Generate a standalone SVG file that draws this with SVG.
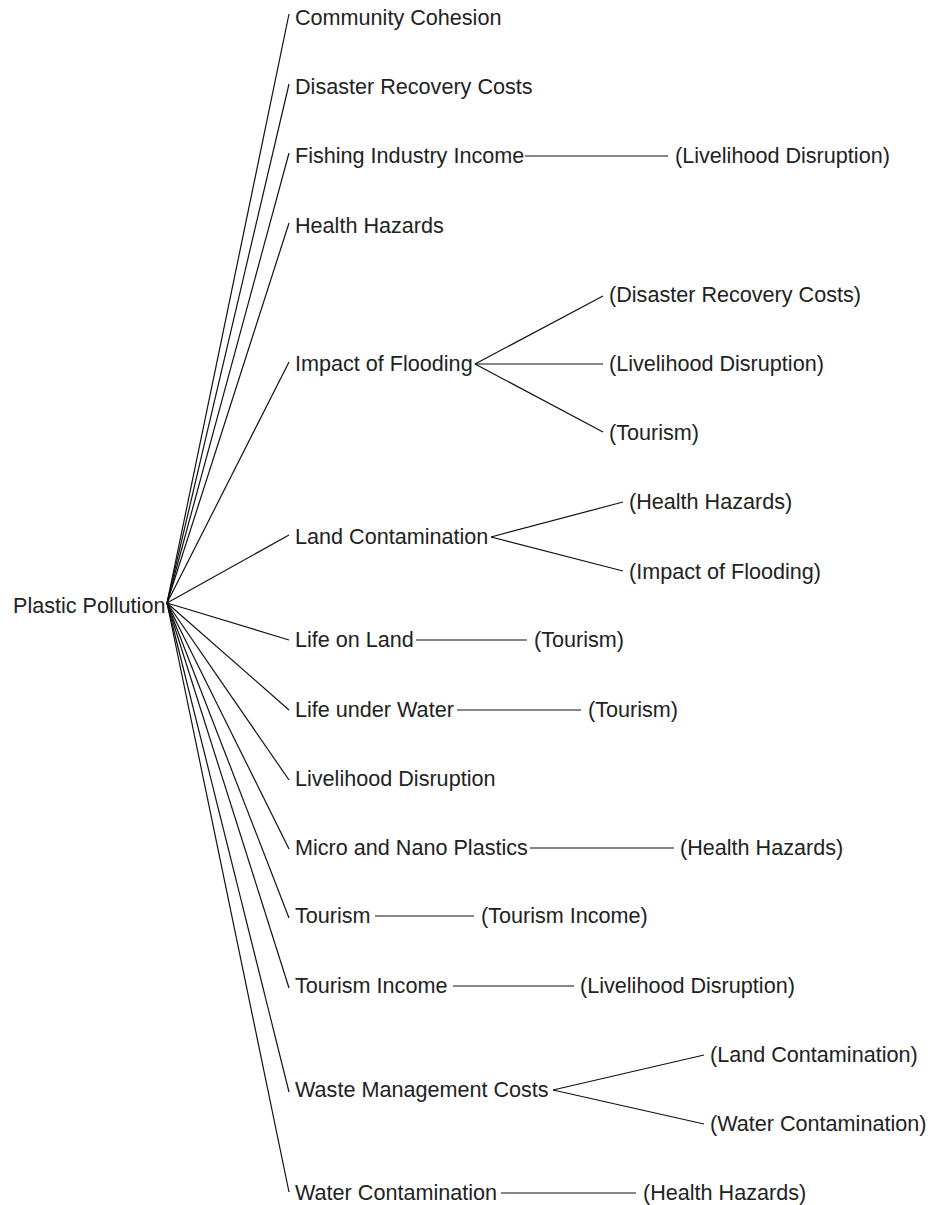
<svg xmlns="http://www.w3.org/2000/svg" width="928" height="1205" viewBox="0 0 928 1205">
<style>
text{font-family:"Liberation Sans",Arial,sans-serif;font-size:21.6px;fill:#222}
#connectors line{stroke:#111;stroke-width:1.2;fill:none}
</style>
<rect width="928" height="1205" fill="#fff"/>
<g id="connectors">
<line x1="167" y1="603" x2="289" y2="14"/>
<line x1="167" y1="603" x2="289" y2="84"/>
<line x1="167" y1="603" x2="289" y2="153"/>
<line x1="167" y1="603" x2="289" y2="223"/>
<line x1="167" y1="603" x2="289" y2="362"/>
<line x1="167" y1="603" x2="289" y2="535"/>
<line x1="167" y1="603" x2="289" y2="640"/>
<line x1="167" y1="603" x2="289" y2="710"/>
<line x1="167" y1="603" x2="289" y2="780"/>
<line x1="167" y1="603" x2="289" y2="849"/>
<line x1="167" y1="603" x2="289" y2="918"/>
<line x1="167" y1="603" x2="289" y2="988"/>
<line x1="167" y1="603" x2="289" y2="1092"/>
<line x1="167" y1="603" x2="289" y2="1192"/>
<line x1="525" y1="156" x2="668" y2="156"/>
<line x1="475" y1="364" x2="603" y2="296"/>
<line x1="475" y1="364" x2="603" y2="364"/>
<line x1="475" y1="364" x2="603" y2="432"/>
<line x1="491" y1="537" x2="623" y2="502"/>
<line x1="491" y1="537" x2="623" y2="571"/>
<line x1="416" y1="640" x2="527" y2="640"/>
<line x1="457" y1="710" x2="581" y2="710"/>
<line x1="530" y1="848" x2="674" y2="848"/>
<line x1="375" y1="916" x2="474" y2="916"/>
<line x1="453" y1="986" x2="574" y2="986"/>
<line x1="553" y1="1090" x2="704" y2="1055"/>
<line x1="553" y1="1090" x2="704" y2="1124"/>
<line x1="501" y1="1193" x2="636" y2="1193"/>
</g>
<g id="root"><text x="13" y="613">Plastic Pollution</text></g>
<g id="n-community"><text x="295" y="25">Community Cohesion</text></g>
<g id="n-disaster"><text x="295" y="94">Disaster Recovery Costs</text></g>
<g id="n-fishing"><text x="295" y="163">Fishing Industry Income</text></g>
<g id="n-fishing-c1"><text x="675" y="163">(Livelihood Disruption)</text></g>
<g id="n-health"><text x="295" y="233">Health Hazards</text></g>
<g id="n-flood"><text x="295" y="371">Impact of Flooding</text></g>
<g id="n-flood-c1"><text x="609" y="302">(Disaster Recovery Costs)</text></g>
<g id="n-flood-c2"><text x="609" y="371">(Livelihood Disruption)</text></g>
<g id="n-flood-c3"><text x="609" y="440">(Tourism)</text></g>
<g id="n-land"><text x="295" y="544">Land Contamination</text></g>
<g id="n-land-c1"><text x="629" y="509">(Health Hazards)</text></g>
<g id="n-land-c2"><text x="629" y="579">(Impact of Flooding)</text></g>
<g id="n-lifeland"><text x="295" y="647">Life on Land</text></g>
<g id="n-lifeland-c1"><text x="534" y="647">(Tourism)</text></g>
<g id="n-lifewater"><text x="295" y="717">Life under Water</text></g>
<g id="n-lifewater-c1"><text x="588" y="717">(Tourism)</text></g>
<g id="n-livelihood"><text x="295" y="786">Livelihood Disruption</text></g>
<g id="n-micro"><text x="295" y="855">Micro and Nano Plastics</text></g>
<g id="n-micro-c1"><text x="680" y="855">(Health Hazards)</text></g>
<g id="n-tourism"><text x="295" y="923">Tourism</text></g>
<g id="n-tourism-c1"><text x="481" y="923">(Tourism Income)</text></g>
<g id="n-tincome"><text x="295" y="993">Tourism Income</text></g>
<g id="n-tincome-c1"><text x="580" y="993">(Livelihood Disruption)</text></g>
<g id="n-waste"><text x="295" y="1097">Waste Management Costs</text></g>
<g id="n-waste-c1"><text x="710" y="1062">(Land Contamination)</text></g>
<g id="n-waste-c2"><text x="710" y="1131">(Water Contamination)</text></g>
<g id="n-water"><text x="295" y="1200">Water Contamination</text></g>
<g id="n-water-c1"><text x="643" y="1200">(Health Hazards)</text></g>
</svg>
